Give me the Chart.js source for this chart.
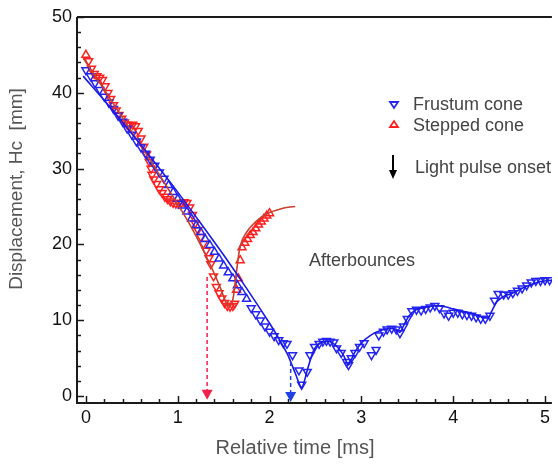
<!DOCTYPE html>
<html>
<head>
<meta charset="utf-8">
<script src="https://cdn.jsdelivr.net/npm/chart.js@4.4.1/dist/chart.umd.min.js"></script>
<style>
  html, body { margin: 0; padding: 0; background: #fff; }
  canvas { display: block; }
</style>
</head>
<body>
<canvas id="c" width="558" height="464"></canvas>
<script>
// Measured displacement of the frustum cone (time in ms, Hc in mm)
const frustumT = [0.00,0.05,0.10,0.15,0.20,0.25,0.30,0.35,0.40,0.45,0.50,0.55,0.60,0.65,0.70,0.75,0.80,0.85,0.90,0.95,
  1.00,1.05,1.10,1.15,1.20,1.25,1.30,1.35,1.40,1.45,1.50,1.55,1.60,1.65,1.70,1.75,1.80,1.85,1.90,1.95,
  2.00,2.05,2.10,2.15,2.19,2.25,2.32,2.35,2.41,2.44,2.49,2.54,2.58,2.62,2.66,2.70,2.73,2.78,2.84,2.86,
  2.89,2.93,2.98,3.03,3.11,3.16,3.19,3.24,3.28,3.33,3.38,3.42,3.46,3.50,3.55,3.60,3.65,3.70,3.75,3.80,
  3.85,3.90,3.95,4.00,4.05,4.10,4.15,4.20,4.25,4.30,4.35,4.40,4.45,4.49,4.55,4.60,4.65,4.70,4.75,4.80,
  4.85,4.90,4.95,5.00,5.05];
const frustumH = [43.0,42.2,41.3,40.4,39.5,38.7,37.9,37.0,36.2,35.3,34.5,33.6,32.8,32.0,31.2,30.4,29.5,28.7,27.8,26.9,
  26.0,25.1,24.3,23.4,22.5,21.6,20.7,19.9,19.0,18.1,17.2,16.3,15.5,14.6,13.7,12.8,11.6,10.8,10.0,9.2,
  8.5,7.9,7.4,7.0,6.9,5.4,3.4,1.5,3.2,5.4,6.5,6.9,7.2,7.3,7.2,7.1,6.3,5.7,4.5,4.1,
  5.0,5.7,6.5,7.0,5.4,6.1,8.0,8.5,8.8,8.9,8.8,8.3,9.2,10.2,11.2,11.4,11.3,11.5,11.7,11.9,
  11.6,10.9,10.6,11.0,11.0,10.8,10.7,10.6,10.4,10.2,10.2,10.6,12.6,13.5,13.4,13.4,13.6,13.9,14.2,14.6,
  15.0,15.2,15.2,15.3,15.3];

// Measured displacement of the stepped cone
const steppedT = [0.00,0.03,0.06,0.09,0.12,0.15,0.18,0.21,0.24,0.27,0.30,0.33,0.36,0.39,0.42,0.45,0.48,0.51,0.54,0.57,
  0.60,0.63,0.66,0.69,0.71,0.72,0.74,0.77,0.80,0.83,0.86,0.89,0.92,0.95,0.98,1.01,1.04,1.07,1.10,1.13,
  1.16,1.19,1.22,1.25,1.28,1.31,1.34,1.36,1.39,1.42,1.45,1.48,1.51,1.54,1.57,1.60,1.62,1.64,1.66,1.68,
  1.70,1.73,1.76,1.79,1.82,1.85,1.88,1.91,1.94,1.97,2.00];
const steppedH = [45.0,44.2,43.2,42.5,42.2,42.0,41.7,40.9,40.0,39.2,38.4,37.7,37.1,36.6,36.1,35.8,35.7,35.8,35.6,35.0,
  34.0,32.9,31.9,30.9,30.0,29.2,28.6,28.0,27.3,26.8,26.3,26.0,25.7,25.5,25.4,25.4,25.5,25.6,25.5,24.9,
  23.9,22.8,21.9,21.0,20.1,19.2,18.2,17.4,15.8,14.4,13.6,12.9,12.3,11.9,11.8,11.9,12.2,14.0,15.5,17.9,
  19.6,20.2,20.7,21.2,21.6,22.1,22.6,23.0,23.4,23.8,24.1];

// Model curves
const frustumFitT = [-0.03,0.25,0.50,0.75,1.00,1.25,1.50,1.75,2.00,2.10,2.20,2.28,2.35,2.42,2.48,2.55,2.65,2.72,2.80,2.86,
  2.92,3.00,3.10,3.20,3.30,3.38,3.42,3.46,3.52,3.60,3.70,3.80,3.90,4.00,4.10,4.20,4.30,4.38,4.42,4.48,
  4.56,4.65,4.75,4.85,4.95,5.08];
const frustumFitH = [42.2,38.3,34.6,30.8,26.9,22.8,18.6,14.2,9.6,7.6,5.4,3.0,1.1,3.8,6.0,7.0,7.2,6.7,5.5,4.1,
  5.6,7.0,8.0,8.6,8.9,8.8,8.4,9.3,10.6,11.4,11.7,11.9,11.8,11.5,11.2,10.9,10.5,10.3,11.2,12.5,
  13.2,13.6,14.2,14.7,15.1,15.3];
const steppedFitT = [-0.03,0.20,0.40,0.60,0.80,1.00,1.10,1.20,1.30,1.40,1.47,1.52,1.55,1.58,1.61,1.64,1.67,1.70,1.75,1.80,
  1.90,2.00,2.10,2.20,2.28];
const steppedFitH = [44.6,40.4,36.7,33.0,29.2,25.3,23.3,21.1,18.7,16.1,14.1,12.5,11.9,12.0,13.4,16.4,19.1,20.5,21.6,22.4,
  23.5,24.2,24.6,24.9,25.0];

// Light pulse onset markers: time, and height where the dashed arrow starts
const onsetT = [1.32, 2.23];
const onsetTop = [15.7, 4.5];
const onsetTip = [-0.5, -0.8];

// Axis ticks
const xTickVals = [0, 1, 2, 3, 4, 5];
const xTickLabels = ['0', '1', '2', '3', '4', '5'];
const yTickVals = [0, 10, 20, 30, 40, 50];
const yTickLabels = ['0', '10', '20', '30', '40', '50'];

const BLUE = '#2424f4';
const BLUE_LINE = '#1a1ae6';
const RED = '#ff1f1f';
const RED_LINE = '#c8402e';
const ARROW_RED = '#f2204a';
const ARROW_BLUE = '#2040e6';
const FONT = '"Liberation Sans", Arial, sans-serif';

const pts = (t, h) => t.map((v, i) => ({ x: v, y: h[i] }));

const decor = {
  id: 'decor',
  afterDraw(chart) {
    const { ctx, chartArea: a, scales: { x, y } } = chart;
    ctx.save();

    // axes frame
    ctx.strokeStyle = '#1a1a1a';
    ctx.lineWidth = 2;
    ctx.beginPath();
    ctx.moveTo(a.left, a.top); ctx.lineTo(a.left, a.bottom); ctx.lineTo(a.right, a.bottom);
    ctx.moveTo(a.left, a.top); ctx.lineTo(a.right, a.top);
    ctx.stroke();

    // inward major and minor ticks
    ctx.lineWidth = 1.5;
    ctx.beginPath();
    for (let i = 0; i <= 25; i++) {
      const px = Math.round(x.getPixelForValue(i * 0.2)) + 0.5;
      const len = i % 5 === 0 ? 7 : 4;
      ctx.moveTo(px, a.bottom); ctx.lineTo(px, a.bottom - len);
    }
    for (let i = 0; i <= 25; i++) {
      const py = Math.round(y.getPixelForValue(i * 2)) + 0.5;
      const len = i % 5 === 0 ? 7 : 4;
      ctx.moveTo(a.left, py); ctx.lineTo(a.left + len, py);
    }
    ctx.stroke();

    // light pulse onset arrows
    const colors = [ARROW_RED, ARROW_BLUE];
    onsetT.forEach((t, i) => {
      const px = x.getPixelForValue(t);
      const top = y.getPixelForValue(onsetTop[i]);
      const tip = y.getPixelForValue(onsetTip[i]);
      ctx.strokeStyle = colors[i];
      ctx.fillStyle = colors[i];
      ctx.lineWidth = 1.5;
      ctx.setLineDash([4, 3]);
      ctx.beginPath();
      ctx.moveTo(px, top); ctx.lineTo(px, tip - 8);
      ctx.stroke();
      ctx.setLineDash([]);
      ctx.beginPath();
      ctx.moveTo(px - 5.5, tip - 10); ctx.lineTo(px + 5.5, tip - 10); ctx.lineTo(px, tip);
      ctx.closePath();
      ctx.fill();
    });

    // legend
    ctx.lineWidth = 1.8;
    ctx.strokeStyle = BLUE;
    ctx.beginPath();
    ctx.moveTo(390, 102); ctx.lineTo(398, 102); ctx.lineTo(394, 108); ctx.closePath();
    ctx.stroke();
    ctx.strokeStyle = RED;
    ctx.beginPath();
    ctx.moveTo(390, 127); ctx.lineTo(398, 127); ctx.lineTo(394, 121); ctx.closePath();
    ctx.stroke();
    ctx.strokeStyle = '#000'; ctx.fillStyle = '#000';
    ctx.lineWidth = 2;
    ctx.beginPath(); ctx.moveTo(393, 155); ctx.lineTo(393, 171); ctx.stroke();
    ctx.beginPath();
    ctx.moveTo(389, 170); ctx.lineTo(397, 170); ctx.lineTo(393, 179); ctx.closePath();
    ctx.fill();

    ctx.fillStyle = '#444';
    ctx.font = '18px ' + FONT;
    ctx.textAlign = 'left';
    ctx.textBaseline = 'middle';
    ctx.fillText('Frustum cone', 413, 105);
    ctx.fillText('Stepped cone', 413, 126);
    ctx.fillText('Light pulse onset', 415, 168);
    ctx.fillText('Afterbounces', 309, 261);

    // axis titles
    ctx.fillStyle = '#555';
    ctx.font = '20px ' + FONT;
    ctx.textAlign = 'center';
    ctx.fillText('Relative time [ms]', 295, 448);
    ctx.font = '19px ' + FONT;
    ctx.translate(17, 189);
    ctx.rotate(-Math.PI / 2);
    ctx.fillText('Displacement, Hc  [mm]', 0, 0);

    ctx.restore();
  }
};

new Chart(document.getElementById('c'), {
  type: 'scatter',
  data: {
    datasets: [
      {
        label: 'Frustum cone fit',
        data: pts(frustumFitT, frustumFitH),
        showLine: true, pointRadius: 0, borderColor: BLUE_LINE, borderWidth: 1.6, tension: 0.25
      },
      {
        label: 'Stepped cone fit',
        data: pts(steppedFitT, steppedFitH),
        showLine: true, pointRadius: 0, borderColor: RED_LINE, borderWidth: 1.6, cubicInterpolationMode: 'monotone'
      },
      {
        label: 'Frustum cone',
        data: pts(frustumT, frustumH),
        showLine: false, pointStyle: 'triangle', pointRadius: 4.6,
        pointRotation: c => (c.raw && c.raw.x >= 0.9 && c.raw.x <= 1.75) ? 0 : 180,
        borderColor: BLUE, backgroundColor: 'rgba(255,255,255,0)', pointBorderWidth: 1.5
      },
      {
        label: 'Stepped cone',
        data: pts(steppedT, steppedH),
        showLine: false, pointStyle: 'triangle', pointRadius: 4.6,
        pointRotation: c => (c.raw && c.raw.x > 0.02 && c.raw.x < 1.64) ? 180 : 0,
        borderColor: RED, backgroundColor: 'rgba(255,255,255,0)', pointBorderWidth: 1.5
      }
    ]
  },
  options: {
    responsive: false,
    animation: false,
    events: [],
    layout: { padding: { top: 17, right: 0, left: 0, bottom: 0 } },
    plugins: { legend: { display: false }, tooltip: { enabled: false } },
    scales: {
      x: {
        type: 'linear', min: -0.097, max: 5.075,
        afterFit: s => { s.height = 61; },
        afterBuildTicks: s => { s.ticks = xTickVals.map(v => ({ value: v })); },
        grid: { display: false, drawTicks: false },
        border: { display: false },
        ticks: {
          autoSkip: false, maxRotation: 0, padding: 4,
          color: '#111', font: { size: 18, family: FONT },
          callback: (v, i) => xTickLabels[i]
        }
      },
      y: {
        type: 'linear', min: -0.92, max: 50,
        afterFit: s => { s.width = 77; },
        afterBuildTicks: s => { s.ticks = yTickVals.map(v => ({ value: v })); },
        grid: { display: false, drawTicks: false },
        border: { display: false },
        ticks: {
          autoSkip: false, padding: 5,
          color: '#111', font: { size: 18, family: FONT },
          callback: (v, i) => yTickLabels[i]
        }
      }
    }
  },
  plugins: [decor]
});
</script>
</body>
</html>
